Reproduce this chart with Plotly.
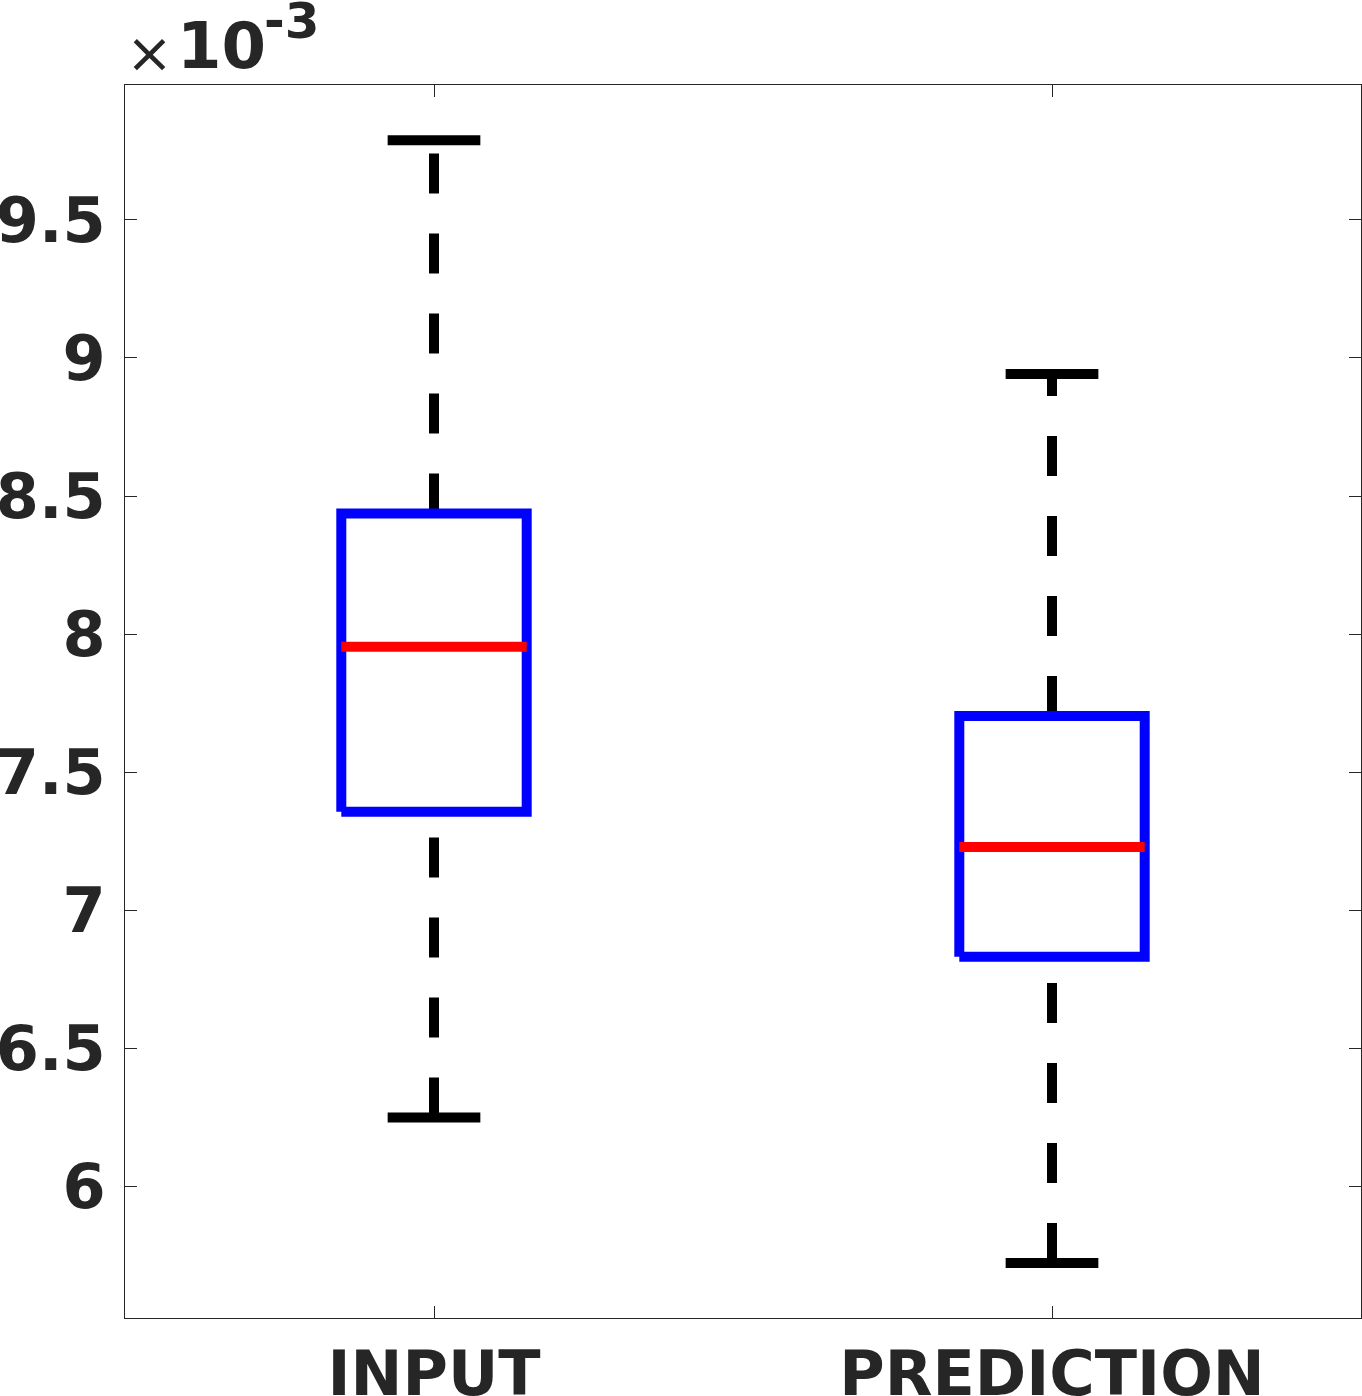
import plotly.graph_objects as go

# box statistics, in units of 1e-3
CATEGORIES = ["INPUT", "PREDICTION"]
POSITIONS = [1, 2]
UPPER_WHISKER = [9.789, 8.942]
Q3 = [8.437, 7.703]
MEDIAN = [7.954, 7.228]
Q1 = [7.356, 6.831]
LOWER_WHISKER = [6.248, 5.721]

Y_TICKS = [6, 6.5, 7, 7.5, 8, 8.5, 9, 9.5]
Y_TICK_LABELS = ["6", "6.5", "7", "7.5", "8", "8.5", "9", "9.5"]

BOX_HALF = 0.15
CAP_HALF = 0.075
INK = "#262626"
LW = 10

W, H = 1362, 1396
M = dict(l=125, r=1, t=85, b=78)

fig = go.Figure()

for x, lo, q1, med, q3, hi in zip(POSITIONS, LOWER_WHISKER, Q1, MEDIAN, Q3, UPPER_WHISKER):
    # whiskers, drawn bottom -> top so the dash pattern starts at the lower end
    for y0, y1 in [(q3, hi), (lo, q1)]:
        fig.add_trace(go.Scatter(
            x=[x, x], y=[y0, y1], mode="lines",
            line=dict(color="black", width=LW, dash="40px,40px"),
            hoverinfo="skip", showlegend=False,
        ))
    # caps
    for yc in (hi, lo):
        fig.add_trace(go.Scatter(
            x=[x - CAP_HALF, x + CAP_HALF], y=[yc, yc], mode="lines",
            line=dict(color="black", width=LW),
            hoverinfo="skip", showlegend=False,
        ))
    # box
    fig.add_trace(go.Scatter(
        x=[x - BOX_HALF, x + BOX_HALF, x + BOX_HALF, x - BOX_HALF, x - BOX_HALF],
        y=[q1, q1, q3, q3, q1], mode="lines",
        line=dict(color="#0000ff", width=LW),
        hoverinfo="skip", showlegend=False,
    ))
    # median
    fig.add_trace(go.Scatter(
        x=[x - BOX_HALF, x + BOX_HALF], y=[med, med], mode="lines",
        line=dict(color="#ff0000", width=LW),
        hoverinfo="skip", showlegend=False,
    ))

tick_font = dict(family="DejaVu Sans", size=62, color=INK, weight="bold")
axis_common = dict(
    showline=True, linecolor=INK, linewidth=1, mirror="ticks",
    ticks="inside", ticklen=12, tickwidth=1, tickcolor=INK,
    showgrid=False, zeroline=False, tickfont=tick_font, automargin=False,
)

fig.update_layout(
    template="none",
    width=W, height=H, margin=M,
    paper_bgcolor="white", plot_bgcolor="white",
    xaxis=dict(range=[0.5, 2.5], tickvals=POSITIONS, ticktext=CATEGORIES,
               ticklabelstandoff=2, **axis_common),
    yaxis=dict(range=[5.522, 9.989], tickvals=Y_TICKS, ticktext=Y_TICK_LABELS,
               ticklabelstandoff=6, **axis_common),
)

pw = W - M["l"] - M["r"]
ph = H - M["t"] - M["b"]


def px(x, y):
    return (x - M["l"]) / pw, (H - M["b"] - y) / ph


# exponent label "x10^-3" above the axis
ax, ay = px(149, 53)
fig.add_annotation(x=ax, y=ay, xref="paper", yref="paper", text="×",
                   showarrow=False, xanchor="center", yanchor="middle",
                   font=dict(family="DejaVu Sans", size=56, color=INK))
ax, ay = px(175, 46)
fig.add_annotation(x=ax, y=ay, xref="paper", yref="paper", text="10",
                   showarrow=False, xanchor="left", yanchor="middle",
                   font=dict(family="DejaVu Sans", size=64, color=INK, weight="bold"))
ax, ay = px(262, 21)
fig.add_annotation(x=ax, y=ay, xref="paper", yref="paper", text="-3",
                   showarrow=False, xanchor="left", yanchor="middle",
                   font=dict(family="DejaVu Sans", size=50, color=INK, weight="bold"))

fig.write_html("out.html", config={"displayModeBar": False},
               post_script="document.body.style.margin = '0';")
